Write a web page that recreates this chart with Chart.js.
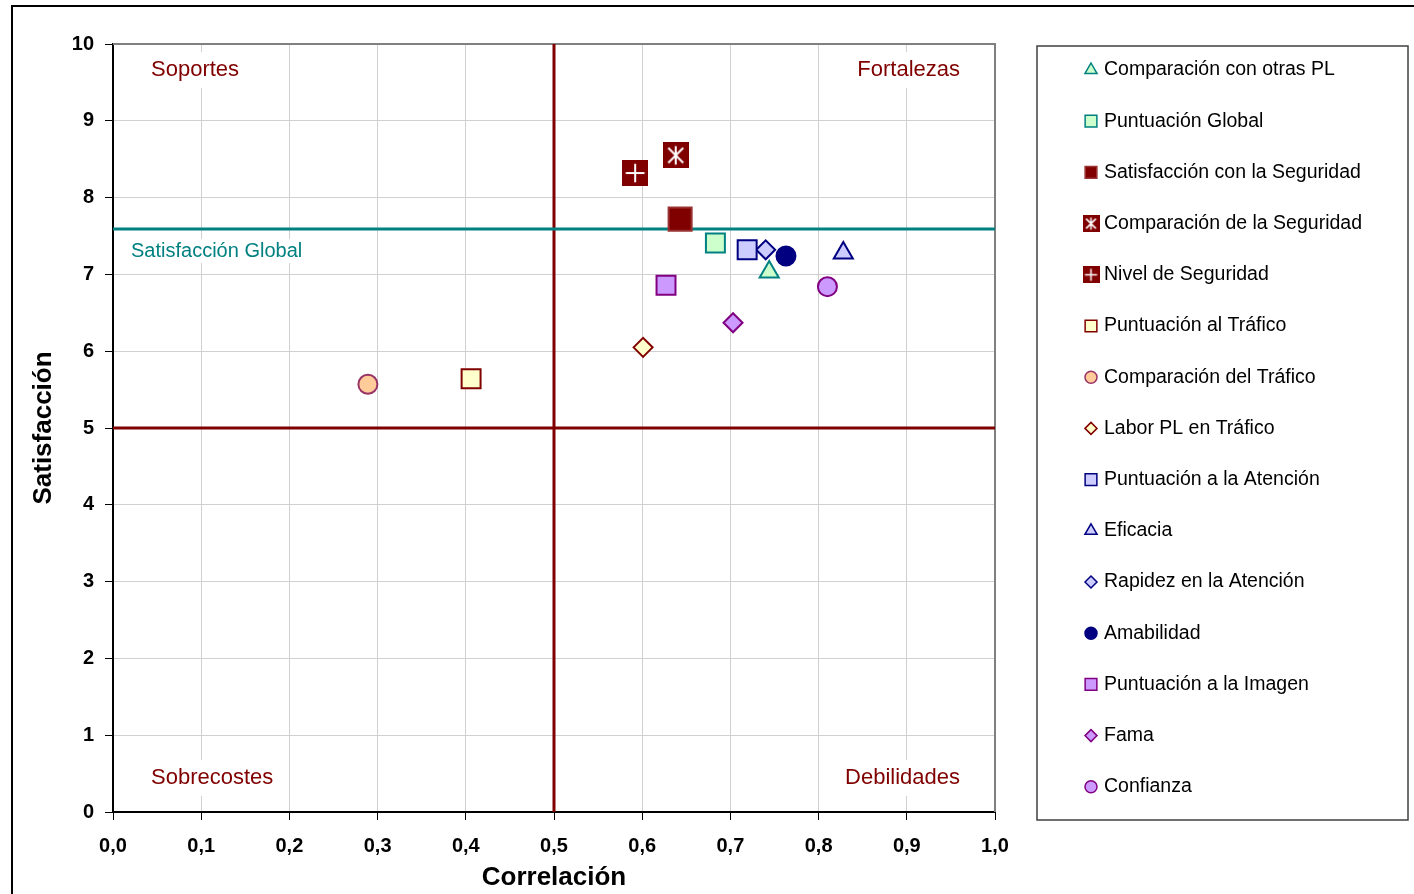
<!DOCTYPE html>
<html lang="es">
<head>
    <meta charset="UTF-8">
    <title>Satisfacción vs Correlación</title>
    <script src="https://cdn.jsdelivr.net/npm/chart.js@4/dist/chart.umd.min.js"></script>
    <style>
        html, body { margin: 0; padding: 0; background: #fff; }
        #wrap { width: 1414px; height: 894px; }
    </style>
</head>
<body>
    <div id="wrap"><canvas id="matriz" width="1414" height="894"></canvas></div>

    <script>
        // datos
        const atributos = [
            "Comparación con otras PL",
            "Puntuación Global",
            "Satisfacción con la Seguridad",
            "Comparación de la Seguridad",
            "Nivel de Seguridad",
            "Puntuación al Tráfico",
            "Comparación del Tráfico",
            "Labor PL en Tráfico",
            "Puntuación a la Atención",
            "Eficacia",
            "Rapidez en la Atención",
            "Amabilidad",
            "Puntuación a la Imagen",
            "Fama",
            "Confianza"
        ];
        const correlacion = [0.744, 0.683, 0.643, 0.638, 0.592, 0.406, 0.289, 0.601, 0.719, 0.828, 0.740, 0.763, 0.627, 0.703, 0.810];
        const satisfaccion = [7.03, 7.41, 7.72, 8.55, 8.32, 5.64, 5.57, 6.05, 7.32, 7.28, 7.32, 7.24, 6.86, 6.37, 6.84];

        const satisfaccionGlobal = 7.59;
        const umbralSatisfaccion = 5;
        const umbralCorrelacion = 0.5;

        const xTicks = ["0,0", "0,1", "0,2", "0,3", "0,4", "0,5", "0,6", "0,7", "0,8", "0,9", "1,0"];
        const cuadrantes = ["Soportes", "Fortalezas", "Sobrecostes", "Debilidades"];

        // estilos de cada serie
        const marcas = ["triangle", "rect", "rect", "starBox", "plusBox", "rect", "circle", "rectRot",
                        "rect", "triangle", "rectRot", "circle", "rect", "rectRot", "circle"];
        const rellenos = ["#CCFFCC", "#CCFFCC", "#800000", "#800000", "#800000", "#FFFFCC", "#FFCC99", "#FFFFCC",
                          "#CCCCFF", "#CCCCFF", "#CCCCFF", "#000080", "#CC99FF", "#CC99FF", "#CC99FF"];
        const bordes = ["#008080", "#008080", "#993333", "#800000", "#800000", "#800000", "#993366", "#800000",
                        "#000080", "#000080", "#000080", "#000080", "#800080", "#800080", "#800080"];
        const radios = [11, 13.4, 16.3, 13, 13, 13.4, 9.5, 9.5, 13.4, 11, 9.5, 9.5, 13.4, 9.5, 9.5];
        const radiosLeyenda = [7, 8.3, 8.3, 9, 9, 8.3, 6, 6, 8.3, 7, 6, 6, 8.3, 6, 6];

        const FONT = "'Liberation Sans', Arial, sans-serif";

        // marca cuadrada granate con cruz o asterisco blanco
        function boxMarker(size, kind) {
            const c = document.createElement("canvas");
            c.width = size; c.height = size;
            const g = c.getContext("2d");
            g.fillStyle = "#800000";
            g.fillRect(0, 0, size, size);
            g.strokeStyle = "#fff";
            g.lineWidth = size > 20 ? 2 : 1.5;
            const m = size / 2, a = size * 0.36;
            g.beginPath();
            g.moveTo(m, m - a); g.lineTo(m, m + a);
            if (kind === "plus") {
                g.moveTo(m - a, m); g.lineTo(m + a, m);
            } else {
                const d = a * 0.8;
                g.moveTo(m - d, m - d); g.lineTo(m + d, m + d);
                g.moveTo(m + d, m - d); g.lineTo(m - d, m + d);
            }
            g.stroke();
            return c;
        }
        const bigMarks = { starBox: boxMarker(26, "star"), plusBox: boxMarker(26, "plus") };
        const smallMarks = { starBox: boxMarker(17, "star"), plusBox: boxMarker(17, "plus") };

        const puntos = atributos.map((nombre, i) => ({
            type: "scatter",
            label: nombre,
            data: [{ x: correlacion[i], y: satisfaccion[i] }],
            pointStyle: bigMarks[marcas[i]] || marcas[i],
            pointRadius: radios[i],
            pointHoverRadius: radios[i],
            backgroundColor: rellenos[i],
            borderColor: bordes[i],
            pointBorderWidth: 2,
            order: 1
        }));

        const lineas = [
            { data: [{ x: 0, y: satisfaccionGlobal }, { x: 1, y: satisfaccionGlobal }], color: "#008080" },
            { data: [{ x: 0, y: umbralSatisfaccion }, { x: 1, y: umbralSatisfaccion }], color: "#800000" },
            { data: [{ x: umbralCorrelacion, y: 0 }, { x: umbralCorrelacion, y: 10 }], color: "#800000" }
        ].map(l => ({
            type: "line",
            label: "",
            data: l.data,
            borderColor: l.color,
            borderWidth: 3,
            pointRadius: 0,
            showLine: true,
            fill: false,
            order: 5
        }));

        const decorado = {
            id: "decorado",
            beforeDraw(chart) {
                const ctx = chart.ctx;
                ctx.save();
                ctx.strokeStyle = "#000";
                ctx.lineWidth = 2;
                ctx.strokeRect(12, 6, 1430, 920);
                ctx.restore();
            },
            beforeDatasetsDraw(chart) {
                const { ctx, chartArea: a, scales } = chart;
                ctx.save();
                // borde superior y derecho del area
                ctx.strokeStyle = "#808080";
                ctx.lineWidth = 2;
                ctx.beginPath();
                ctx.moveTo(a.left, a.top); ctx.lineTo(a.right, a.top); ctx.lineTo(a.right, a.bottom);
                ctx.stroke();

                ctx.font = "22px " + FONT;
                ctx.textBaseline = "middle";
                const etiquetas = [
                    [cuadrantes[0], a.left + 38, a.top + 26, "left"],
                    [cuadrantes[1], a.right - 35, a.top + 26, "right"],
                    [cuadrantes[2], a.left + 38, a.bottom - 34, "left"],
                    [cuadrantes[3], a.right - 35, a.bottom - 34, "right"]
                ];
                etiquetas.forEach(([t, x, y, al]) => {
                    const w = ctx.measureText(t).width;
                    const x0 = al === "left" ? x : x - w;
                    ctx.fillStyle = "#fff";
                    ctx.fillRect(x0 - 4, y - 18, w + 8, 36);
                    ctx.fillStyle = "#800000";
                    ctx.textAlign = al;
                    ctx.fillText(t, x, y);
                });

                ctx.font = "20px " + FONT;
                ctx.textAlign = "left";
                const gy = scales.y.getPixelForValue(satisfaccionGlobal) + 22;
                const tg = "Satisfacción Global";
                const wg = ctx.measureText(tg).width;
                ctx.fillStyle = "#fff";
                ctx.fillRect(a.left + 14, gy - 12, wg + 8, 24);
                ctx.fillStyle = "#008080";
                ctx.fillText(tg, a.left + 18, gy);
                ctx.restore();
            },
            afterDraw(chart) {
                const ctx = chart.ctx;
                ctx.save();
                const bx = 1037, by = 46, bw = 371, bh = 774;
                ctx.strokeStyle = "#404040";
                ctx.lineWidth = 1.5;
                ctx.strokeRect(bx, by, bw, bh);
                ctx.font = "19.5px " + FONT;
                ctx.textBaseline = "middle";
                ctx.textAlign = "left";
                atributos.forEach((nombre, i) => {
                    const cy = 70 + i * 51.2;
                    const cx = 1091;
                    const img = smallMarks[marcas[i]];
                    if (img) {
                        ctx.drawImage(img, cx - 8.5, cy - 8.5);
                    } else {
                        ctx.fillStyle = rellenos[i];
                        ctx.strokeStyle = bordes[i];
                        ctx.lineWidth = 1.5;
                        Chart.helpers.drawPoint(ctx, {
                            pointStyle: marcas[i], radius: radiosLeyenda[i], rotation: 0, borderWidth: 1.5
                        }, cx, cy);
                    }
                    ctx.fillStyle = "#000";
                    ctx.fillText(nombre, 1104, cy);
                });
                ctx.restore();
            }
        };

        function drawMatriz() {
            const ctx = document.getElementById("matriz").getContext("2d");
            new Chart(ctx, {
                type: "scatter",
                data: { datasets: [...puntos, ...lineas] },
                options: {
                    responsive: false,
                    animation: false,
                    layout: { padding: { left: 0, top: 44, right: 419, bottom: 0 } },
                    plugins: { legend: { display: false }, tooltip: { enabled: false } },
                    scales: {
                        x: {
                            type: "linear",
                            min: 0, max: 1,
                            afterFit: s => { s.height = 82; },
                            afterBuildTicks: s => { s.ticks = xTicks.map((_, i) => ({ value: i / 10 })); },
                            ticks: {
                                padding: 14,
                                color: "#000",
                                font: { family: FONT, size: 20, weight: "bold" },
                                callback: (v, i) => xTicks[i]
                            },
                            grid: { color: "#D0D0D0", lineWidth: 1, tickColor: "#000", tickLength: 8 },
                            border: { color: "#000", width: 2 },
                            title: {
                                display: true,
                                text: "Correlación",
                                color: "#000",
                                font: { family: FONT, size: 26, weight: "bold" },
                                padding: { top: 0, bottom: 1 }
                            }
                        },
                        y: {
                            type: "linear",
                            min: 0, max: 10,
                            afterFit: s => { s.width = 113; },
                            ticks: {
                                stepSize: 1,
                                padding: 11,
                                color: "#000",
                                font: { family: FONT, size: 20, weight: "bold" }
                            },
                            grid: { color: "#D0D0D0", lineWidth: 1, tickColor: "#000", tickLength: 8 },
                            border: { color: "#000", width: 2 },
                            title: {
                                display: true,
                                text: "Satisfacción",
                                color: "#000",
                                font: { family: FONT, size: 26, weight: "bold" },
                                padding: { top: 28, bottom: 0 }
                            }
                        }
                    }
                },
                plugins: [decorado]
            });
        }
        window.onload = drawMatriz;
    </script>
</body>
</html>
